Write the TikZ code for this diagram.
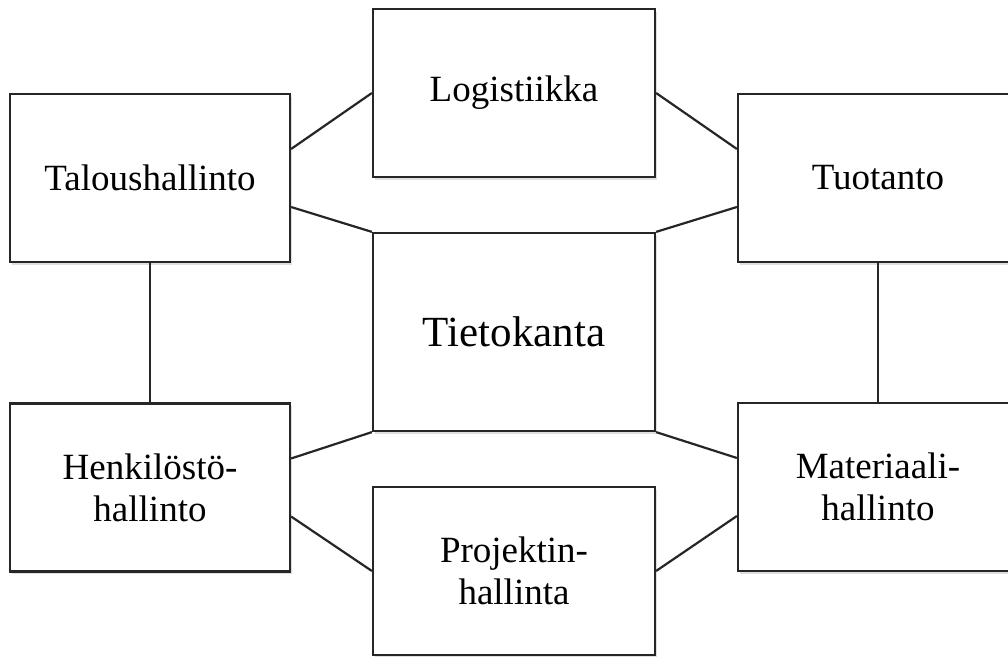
\documentclass[tikz,border=0pt]{standalone}
\usepackage{fontspec}
\setmainfont{Liberation Serif}
\usetikzlibrary{positioning}
\usetikzlibrary{calc}
\usetikzlibrary{shadows}
\tikzset{
  link/.style = {
    draw = black!85, line width = 1.1pt  }
}

\begin{document}
\begin{tikzpicture}[x=0.5pt, y=-0.5pt,
box_style/.style={draw=black!85, line width=1.1pt, fill=white, align=center,
  minimum width=140pt, minimum height=84pt, inner sep=0pt,
  font=\fontsize{18.5}{21}\selectfont,
  drop shadow={shadow xshift=1pt, shadow yshift=-1.5pt, opacity=.25}},
big_style/.style={box_style, minimum height=99pt, font=\fontsize{21.5}{24}\selectfont}]
\useasboundingbox (0,0) rectangle (1008,657);

\node[box_style] (talous) at (150,178) {Taloushallinto};
\node[box_style, minimum width=141pt] (logistiikka) at (514,93) {Logistiikka};
\node[box_style] (tuotanto) at (878,178) {Tuotanto};
\node[big_style, minimum width=141pt] (tietokanta) at (514,332) {Tietokanta};
\node[box_style] (henkilosto) at (150,487.5) {Henkilöstö-\\hallinto};
\node[box_style, minimum width=141pt] (projekti) at (514,571) {Projektin-\\hallinta};
\node[box_style] (materiaali) at (878,487) {Materiaali-\\hallinto};

%\draw[link] (talous) -- (tietokanta);
\draw[link] ([yshift=14.5pt]talous.east) -- (logistiikka.west);
\draw[link] ([yshift=-14.5pt]talous.east) -- (tietokanta.north west);
\draw[link] (logistiikka.east) -- ([yshift=14.5pt]tuotanto.west);
\draw[link] (tietokanta.north east) -- ([yshift=-14.5pt]tuotanto.west);

\draw[link] (talous) -- (henkilosto);
\draw[link] (tuotanto) -- (materiaali);

\draw[link] ([yshift=14.5pt]henkilosto.east) -- (tietokanta.south west);
\draw[link] ([yshift=-14.5pt]henkilosto.east) -- (projekti.west);
\draw[link] (tietokanta.south east) -- ([yshift=14.5pt]materiaali.west);
\draw[link] (projekti.east) -- ([yshift=-14.5pt]materiaali.west);
\end{tikzpicture}
\end{document}
